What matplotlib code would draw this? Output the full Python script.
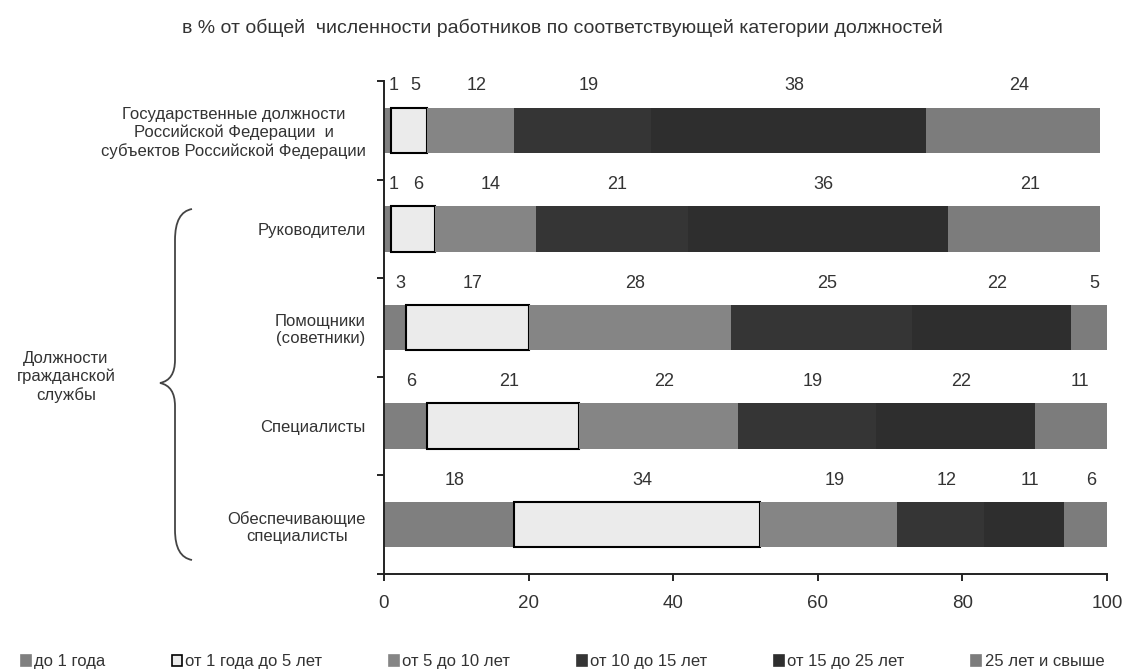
import matplotlib
matplotlib.use('Agg')
from matplotlib import pyplot as plt
from matplotlib.patches import Patch, PathPatch
from matplotlib.path import Path

plt.rcParams['font.family'] = ['Liberation Sans', 'DejaVu Sans']

categories = ['Государственные должности\nРоссийской Федерации  и\nсубъектов Российской Федерации',
              'Руководители',
              'Помощники\n(советники)',
              'Специалисты',
              'Обеспечивающие\nспециалисты']
series = ['до 1 года', 'от 1 года до 5 лет', 'от 5 до 10 лет',
          'от 10 до 15 лет', 'от 15 до 25 лет', '25 лет и свыше']
do1 = [1, 1, 3, 6, 18]
ot1do5 = [5, 6, 17, 21, 34]
ot5do10 = [12, 14, 28, 22, 19]
ot10do15 = [19, 21, 25, 19, 12]
ot15do25 = [38, 36, 22, 22, 11]
ot25 = [24, 21, 5, 11, 6]
xticks = [0, 20, 40, 60, 80, 100]

values = [do1, ot1do5, ot5do10, ot10do15, ot15do25, ot25]
colors = ['#7f7f7f', '#ebebeb', '#858585', '#353535', '#2e2e2e', '#7c7c7c']
edges = ['none', 'black', 'none', 'none', 'none', 'none']

fig = plt.figure(figsize=(11.25, 6.72), dpi=100)
ax = fig.add_axes([0.3413, 0.1458, 0.6427, 0.7337])

ypos = list(range(len(categories)))
left = [0] * len(categories)
for vals, c, e in zip(values, colors, edges):
    ax.barh(ypos, vals, left=left, height=0.46, color=c, edgecolor=e,
            linewidth=1.5 if e != 'none' else 0, zorder=2)
    for i, v in enumerate(vals):
        ax.text(left[i] + v / 2 + 0.8, i - 0.45, str(v), ha='center', va='center',
                fontsize=13, color='#333333')
    left = [l + v for l, v in zip(left, vals)]

ax.set_xlim(0, 100)
ax.set_ylim(len(categories) - 0.5, -0.5)
ax.set_xticks(xticks)
ax.set_xticklabels([str(t) for t in xticks], fontsize=13.5, color='#333333')
ax.set_yticks(ypos)
ax.set_yticklabels(categories, fontsize=12, color='#333333')
for lab in ax.get_yticklabels():
    lab.set_multialignment('center')
ax.set_yticks([i - 0.5 for i in range(len(categories) + 1)], minor=True)
ax.tick_params(axis='y', which='major', length=0, pad=13)
ax.tick_params(axis='y', which='minor', length=5, width=1.2, direction='out')
ax.tick_params(axis='x', length=5, width=1.2, direction='out', pad=10)
for s in ['top', 'right']:
    ax.spines[s].set_visible(False)
for s in ['left', 'bottom']:
    ax.spines[s].set_linewidth(1.4)
    ax.spines[s].set_color('#222222')

fig.text(0.5, 0.958, 'в % от общей  численности работников по соответствующей категории должностей',
         ha='center', va='center', fontsize=14, color='#333333')

# brace for civil service group
W, H = 1125.0, 672.0
pts = [(192, 209), (175, 212), (175, 240), (175, 360), (175, 380), (160, 383),
       (175, 386), (175, 406), (175, 530), (175, 557), (192, 560)]
codes = [Path.MOVETO, Path.CURVE3, Path.CURVE3, Path.LINETO, Path.CURVE3, Path.CURVE3,
         Path.CURVE3, Path.CURVE3, Path.LINETO, Path.CURVE3, Path.CURVE3]
verts = [(x / W, 1 - y / H) for x, y in pts]
fig.patches.append(PathPatch(Path(verts, codes), transform=fig.transFigure,
                             facecolor='none', edgecolor='#444444', linewidth=1.3))
fig.text(66 / W, 1 - 377 / H, 'Должности\nгражданской\nслужбы', ha='center', va='center',
         fontsize=12, color='#333333', multialignment='center')

handles = [Patch(facecolor=c, edgecolor=(e if e != 'none' else c), linewidth=1.2)
           for c, e in zip(colors, edges)]
fig.legend(handles, series, loc='lower center', bbox_to_anchor=(0.5, -0.018), ncol=6,
           frameon=False, fontsize=12, handlelength=0.6, handleheight=0.6,
           handletextpad=0.2, columnspacing=4.0, labelcolor='#333333')

plt.savefig('out.png')
